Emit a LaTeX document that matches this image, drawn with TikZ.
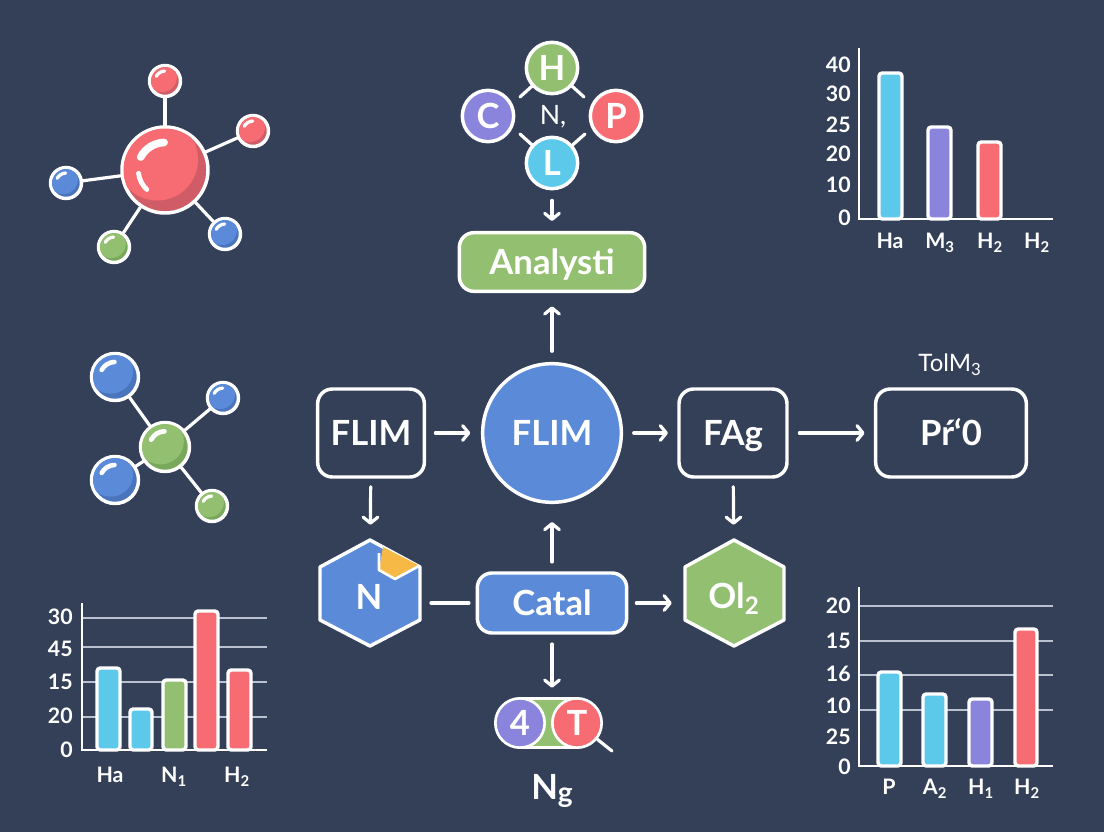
\documentclass[tikz,border=0pt]{standalone}
\usepackage{fontspec}
\setmainfont{Lato}
\usetikzlibrary{arrows.meta}

\definecolor{bgslate}{HTML}{343F58}
\definecolor{atomblue}{HTML}{5B8BD8}
\definecolor{atombluedk}{HTML}{4A74BC}
\definecolor{atomred}{HTML}{F76C72}
\definecolor{atomreddk}{HTML}{CF5C66}
\definecolor{atomgreen}{HTML}{93C070}
\definecolor{atomgreendk}{HTML}{78A95A}
\definecolor{barcyan}{HTML}{5CC8EA}
\definecolor{barpurple}{HTML}{8A84DC}
\definecolor{cornergold}{HTML}{F6B945}
\definecolor{gridgrey}{HTML}{B9C1CE}

\tikzset{
    biglbl/.style={text=white, font=\fontsize{26}{30}\selectfont\bfseries, text height=19pt, text depth=0pt},
    smalllbl/.style={text=white, font=\fontsize{16}{18}\selectfont\bfseries, text height=11.6pt, text depth=0pt, inner sep=0pt},
    flowbox/.style={biglbl, draw=white, line width=2.6pt, rounded corners=11pt, inner sep=0pt, minimum height=66pt},
    letterdisc/.style={biglbl, circle, draw=white, line width=2.6pt, inner sep=0pt, minimum size=38.5pt},
    atomnode/.style={circle, draw=white, line width=2.6pt, inner sep=0pt},
    wire/.style={draw=white, line width=2.4pt, line cap=round},
    flow/.style={wire, ->},
    barrect/.style={draw=white, line width=2.6pt, rounded corners=2.5pt},
    axisline/.style={draw=white, line width=2.2pt},
    gridline/.style={draw=gridgrey, line width=1.1pt},
    shine/.style={draw=white, line cap=round}
}

% name, centre, radius, light colour, dark colour
\newcommand{\atom}[5]{
    \node [atomnode, fill=#5, minimum size=#3*1.5pt] (#1) at (#2) {};
    \begin{scope}
        \clip (#2) circle [radius=#3-1.5];
        \fill [#4] (#2) ++(-.18*#3,-.24*#3) circle [radius=.95*#3];
    \end{scope}
    \draw [shine, line width=#3*.12pt+.6pt] (#2) ++(208:.64*#3) arc [start angle=208, end angle=268, radius=.64*#3];
}

\begin{document}
\begin{tikzpicture}[x=.75pt, y=-.75pt, >={Straight Barb[round,length=4.5pt,width=11pt]}]

    \useasboundingbox (0,0) rectangle (1104,832);
    \fill [bgslate] (0,0) rectangle (1104,832);

    %Red molecule
    \atom{redcore}{165,170}{43}{atomred}{atomreddk}
    \draw [shine, line width=3.6pt] (165,170) ++(173:.62*43) arc [start angle=173, end angle=133, radius=.62*43];
    \atom{redtop}{165,81}{15.5}{atomred}{atomreddk}
    \atom{redright}{253,131}{15.5}{atomred}{atomreddk}
    \atom{redleft}{66,183}{15.5}{atomblue}{atombluedk}
    \atom{redlow}{114,247}{15.5}{atomgreen}{atomgreendk}
    \atom{redlowr}{225,234}{15.5}{atomblue}{atombluedk}
    \foreach \atomname in {redtop,redright,redleft,redlow,redlowr}
        \draw [wire] (redcore) -- (\atomname);

    %Green molecule
    \atom{greencore}{165,447}{24.5}{atomgreen}{atomgreendk}
    \atom{greenul}{115,377}{23.5}{atomblue}{atombluedk}
    \atom{greenur}{223,398}{15.5}{atomblue}{atombluedk}
    \atom{greenll}{115,480}{23.5}{atomblue}{atombluedk}
    \atom{greenlr}{212,506}{15.5}{atomgreen}{atomgreendk}
    \foreach \atomname in {greenul,greenur,greenll,greenlr}
        \draw [wire] (greencore) -- (\atomname);

    %Letter cluster on top
    \node [letterdisc, fill=atomgreen] (disch) at (552,68) {H};
    \node [letterdisc, fill=barpurple] (discc) at (488,116) {C};
    \node [letterdisc, fill=atomred] (discp) at (616,116) {P};
    \node [letterdisc, fill=barcyan] (discl) at (552,163) {L};
    \node [text=white, font=\fontsize{20}{24}\selectfont] (clustern) at (553,117) {N,};
    \coordinate (stubhl) at (520,97);
    \coordinate (stubhr) at (584,97);
    \coordinate (stubll) at (520,134);
    \coordinate (stublr) at (585,134);
    \draw [wire] (disch) -- (stubhl);
    \draw [wire] (disch) -- (stubhr);
    \draw [wire] (discl) -- (stubll);
    \draw [wire] (discl) -- (stublr);

    %Centre row
    \node [flowbox, fill=atomgreen, minimum width=139pt, minimum height=44pt] (analyst) at (552,262) {Analysti};
    \node [flowbox, minimum width=80pt] (boxflim) at (371,433) {FLIM};
    \node [biglbl, circle, draw=white, line width=2.6pt, fill=atomblue, inner sep=0pt, minimum size=104pt] (coreflim) at (552,433) {FLIM};
    \node [flowbox, minimum width=81pt] (boxfag) at (733,433) {FAg};
    \node [flowbox, minimum width=113pt] (boxpr) at (951,433) {Pŕ‘0};
    \node [text=white, font=\fontsize{18}{20}\selectfont] (tolm) at (950,365) {TolM\textsubscript{3}};

    %Bottom row, hexagons are drawn and the nodes lie over them
    \draw [draw=white, line width=2.6pt, line join=round, fill=atomblue] (370,540) -- (420,567) -- (420,620) -- (370,646) -- (320,620) -- (320,567) -- cycle;
    \fill [cornergold] (383,547) -- (418,565) -- (395,579) -- (379,570) -- cycle;
    \draw [draw=white, line width=2pt, line join=round] (379,553) -- (379,570) -- (395,579) -- (419,566);
    \node [biglbl, minimum width=75pt, minimum height=82pt, inner sep=0pt] (hexn) at (370,593) {};
    \node [biglbl] (hexnlbl) at (369,597) {N};
    \draw [draw=white, line width=2.6pt, line join=round, fill=atomgreen] (734,540) -- (784,567) -- (784,620) -- (734,646) -- (685,620) -- (685,567) -- cycle;
    \node [biglbl, minimum width=75pt, minimum height=82pt, inner sep=0pt] (hexo) at (734,593) {};
    \node [biglbl] (hexolbl) at (734,596) {Ol\textsubscript{2}};
    \node [flowbox, fill=atomblue, minimum width=112pt, minimum height=45pt] (catal) at (552,603) {Catal};

    %Pill with two discs
    \node [draw=white, line width=2pt, fill=atomgreen, minimum width=42pt, minimum height=37pt, inner sep=0pt] (pillbar) at (548,723) {};
    \node [letterdisc, fill=barpurple, line width=2pt, minimum size=37pt] (discfour) at (520,723) {4};
    \node [letterdisc, fill=atomred, line width=2pt, minimum size=37pt] (disct) at (577,723) {T};
    \coordinate (handle) at (612,751);
    \draw [wire] (disct) -- (handle);
    \node [biglbl] (pilllbl) at (552,787) {N{\fontsize{21}{24}\selectfont\raisebox{-2pt}{g}}};

    %Arrows between the blocks
    \draw [flow, shorten <=7.5pt, shorten >=7.5pt] (discl) -- (analyst);
    \draw [flow, shorten <=8pt, shorten >=10pt] (coreflim) -- (analyst);
    \draw [flow, shorten <=7pt, shorten >=8pt] (boxflim) -- (coreflim);
    \draw [flow, shorten <=8pt, shorten >=7pt] (coreflim) -- (boxfag);
    \draw [flow, shorten <=8pt, shorten >=7pt] (boxfag) -- (boxpr);
    \draw [flow, shorten <=6pt, shorten >=10pt] (boxflim) -- (hexn);
    \draw [flow, shorten <=6pt, shorten >=10pt] (boxfag) -- (hexo);
    \draw [wire, shorten <=8pt, shorten >=5pt] (hexn.east |- catal) -- (catal);
    \draw [flow, shorten <=6pt, shorten >=9pt] (catal) -- (hexo.west |- catal);
    \draw [flow, shorten <=7pt, shorten >=13.5pt] (catal) -- (coreflim);
    \draw [flow, shorten <=7pt, shorten >=7pt] (catal) -- (catal |- pillbar.north);

    %Chart top right
    \foreach \xa/\xb/\ytop/\barcol in {879/902/73/barcyan, 928/951/127/barpurple, 978/1001/142/atomred}
        \draw [barrect, fill=\barcol] (\xa,219) rectangle (\xb,\ytop);
    \draw [axisline] (859,48) -- (859,219) -- (1053,219);
    \foreach \val/\ypos in {40/65, 30/94, 25/125, 20/154, 10/185, 0/218}
        \node [smalllbl, anchor=east] (trtick\val) at (851,\ypos) {\val};
    \foreach \txt/\xpos [count=\i] in {Ha/890, M\textsubscript{3}/940, H\textsubscript{2}/990, H\textsubscript{2}/1037}
        \node [smalllbl] (trname\i) at (\xpos,241) {\txt};

    %Chart bottom left
    \foreach \ypos in {618,647,682,717}
        \draw [gridline] (82,\ypos) -- (267,\ypos);
    \foreach \xa/\xb/\ytop/\barcol in {97/120/668/barcyan, 130/152/709/barcyan, 163/186/680/atomgreen, 195/218/611/atomred, 228/251/670/atomred}
        \draw [barrect, fill=\barcol] (\xa,750) rectangle (\xb,\ytop);
    \draw [axisline] (82,603) -- (82,750) -- (267,750);
    \foreach \val/\ypos in {30/617, 45/649, 15/682, 20/716, 0/750}
        \node [smalllbl, anchor=east] (bltick\val) at (73,\ypos) {\val};
    \foreach \txt/\xpos [count=\i] in {Ha/110, N\textsubscript{1}/174, H\textsubscript{2}/237}
        \node [smalllbl] (blname\i) at (\xpos,775) {\txt};

    %Chart bottom right
    \foreach \ypos in {606,641,675,710}
        \draw [gridline] (859,\ypos) -- (1053,\ypos);
    \foreach \xa/\xb/\ytop/\barcol in {878/901/672/barcyan, 923/946/694/barcyan, 969/992/699/barpurple, 1015/1037/629/atomred}
        \draw [barrect, fill=\barcol] (\xa,766) rectangle (\xb,\ytop);
    \draw [axisline] (859,587) -- (859,766) -- (1053,766);
    \foreach \val/\ypos in {20/606, 15/641, 16/674, 10/706, 25/737, 0/767}
        \node [smalllbl, anchor=east] (brtick\val) at (851,\ypos) {\val};
    \foreach \txt/\xpos [count=\i] in {P/889, A\textsubscript{2}/935, H\textsubscript{1}/981, H\textsubscript{2}/1027}
        \node [smalllbl] (brname\i) at (\xpos,787) {\txt};

\end{tikzpicture}
\end{document}
